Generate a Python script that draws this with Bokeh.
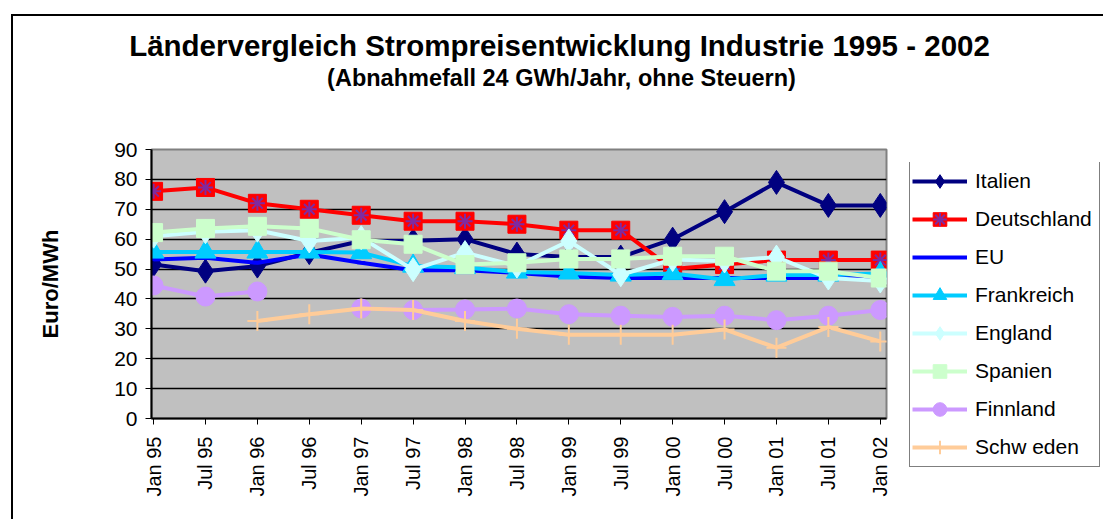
import math
from bokeh.plotting import figure
from bokeh.models import (Legend, LegendItem, Label, FixedTicker, Range1d, Div)
from bokeh.embed import file_html
from bokeh.resources import INLINE

nan = float("nan")

categories = ["Jan 95", "Jul 95", "Jan 96", "Jul 96", "Jan 97", "Jul 97", "Jan 98", "Jul 98",
              "Jan 99", "Jul 99", "Jan 00", "Jul 00", "Jan 01", "Jul 01", "Jan 02"]

italien     = [51.5, 49.3, 51.0, 55.5, 59.4, 59.5, 60.0, 55.0, 54.0, 54.0, 60.0, 69.2, 79.0, 71.3, 71.3]
deutschland = [76.0, 77.3, 72.0, 70.0, 68.0, 66.0, 66.0, 65.0, 63.0, 63.0, 50.0, 51.5, 53.0, 53.0, 53.0]
eu          = [53.2, 53.8, 52.1, 54.9, 52.1, 49.6, 49.6, 48.7, 47.5, 47.0, 47.0, 47.0, 47.0, 47.0, 47.5]
frankreich  = [55.7, 55.7, 55.7, 55.7, 55.5, 51.0, 50.5, 49.0, 48.7, 48.0, 48.5, 46.5, 48.0, 48.0, 48.5]
england     = [61.0, 62.5, 63.0, 59.4, 60.5, 49.8, 55.5, 51.0, 59.4, 48.1, 53.2, 52.7, 54.0, 47.0, 46.0]
spanien     = [62.2, 63.6, 64.3, 63.6, 59.8, 58.3, 51.5, 52.1, 53.4, 53.4, 54.3, 54.3, 49.3, 49.3, 47.0]
finnland    = [44.5, 40.8, 42.5, nan, 36.8, 36.3, 36.5, 36.8, 34.9, 34.4, 34.0, 34.4, 32.9, 34.4, 36.3]
schweden    = [nan, nan, 32.6, 34.9, 36.8, 36.3, 32.6, 30.0, 28.0, 28.0, 28.0, 29.8, 23.7, 30.6, 25.8]

names = ["Italien", "Deutschland", "EU", "Frankreich", "England", "Spanien", "Finnland", "Schw eden"]
title_text = "Ländervergleich Strompreisentwicklung Industrie 1995 - 2002"
subtitle_text = "(Abnahmefall 24 GWh/Jahr, ohne Steuern)"

FONT = "Liberation Sans"

# ---------- main plot ----------
PW, PH = 1101, 517
p = figure(width=PW, height=PH, output_backend="svg", toolbar_location=None, title=None,
           x_range=Range1d(-0.04, 14.12), y_range=Range1d(0, 90),
           min_border_left=151, min_border_right=215, min_border_top=149, min_border_bottom=99,
           background_fill_color="#C0C0C0", border_fill_color="white",
           outline_line_color="#808080", outline_line_width=2)

xs = list(range(len(categories)))

p.xaxis.ticker = FixedTicker(ticks=xs)
p.xaxis.major_label_overrides = {i: c for i, c in enumerate(categories)}
p.xaxis.major_label_orientation = math.pi / 2
p.yaxis.ticker = FixedTicker(ticks=list(range(0, 91, 10)))
for ax in (p.xaxis[0], p.yaxis[0]):
    ax.axis_line_color = "black"
    ax.axis_line_width = 2
    ax.major_tick_line_color = "black"
    ax.major_tick_in = 0
    ax.major_tick_out = 6
    ax.minor_tick_line_color = None
    ax.major_label_text_font = FONT
    ax.major_label_text_font_size = "21px"
    ax.major_label_text_color = "black"
    ax.major_label_standoff = 8
p.xaxis.major_label_text_font_size = "20px"
p.xaxis.major_label_standoff = 12
p.yaxis.axis_label = "Euro/MWh"
p.yaxis.axis_label_text_font = FONT
p.yaxis.axis_label_text_font_size = "22px"
p.yaxis.axis_label_text_font_style = "bold"
p.yaxis.axis_label_text_color = "black"
p.yaxis.axis_label_standoff = 48

p.xgrid.grid_line_color = None
p.ygrid.grid_line_color = "black"
p.ygrid.grid_line_width = 1.5

# ---------- title strip (separate figure placed over the top margin) ----------
TW, TH = 1101, 98
tfig = figure(width=TW, height=TH, output_backend="svg", toolbar_location=None, title=None,
              x_range=Range1d(0, TW), y_range=Range1d(0, TH),
              min_border=0, outline_line_color=None, background_fill_color="white",
              border_fill_color="white",
              styles={"position": "absolute", "left": "0px", "top": "0px"})
tfig.axis.visible = False
tfig.grid.visible = False
tfig.add_layout(Label(x=559, y=53, x_units="screen", y_units="screen", text=title_text,
                      text_font=FONT, text_font_size="29.5px", text_font_style="bold",
                      text_align="center", text_baseline="middle", text_color="black"))
tfig.add_layout(Label(x=561, y=21, x_units="screen", y_units="screen", text=subtitle_text,
                      text_font=FONT, text_font_size="23.5px", text_font_style="bold",
                      text_align="center", text_baseline="middle", text_color="black"))

# ---------- legend box (separate small figure placed over the right margin) ----------
LWID, LH = 192, 306
lfig = figure(width=LWID, height=LH, output_backend="svg", toolbar_location=None, title=None,
              x_range=Range1d(0, 1), y_range=Range1d(0, 1),
              min_border=0, outline_line_color=None, background_fill_color="white",
              border_fill_color="white",
              styles={"position": "absolute", "left": "908px", "top": "162px"})
lfig.axis.visible = False
lfig.grid.visible = False

LW = 4
series_styles = [
    # (data, color, marker, size, marker line width)
    (italien, "#000080", "diamond", 24, 1),
    (deutschland, "#FF0000", "square", 18, 1),
    (eu, "#0000FF", "dash", 8, 3),
    (frankreich, "#00CCFF", "triangle", 21, 1),
    (england, "#CCFFFF", "diamond", 24, 1),
    (spanien, "#CCFFCC", "square", 18, 1),
    (finnland, "#CC99FF", "circle", 19, 1),
    (schweden, "#FFCC99", "cross", 20, 2),
]

OFF = [5.0]  # legend-only renderers sit outside the legend figure's visible range
items = []
for name, (ys, color, marker, size, mlw) in zip(names, series_styles):
    p.line(xs, ys, line_color=color, line_width=LW)
    p.scatter(xs, ys, marker=marker, size=size, fill_color=color, line_color=color, line_width=mlw)
    rl = lfig.line(OFF, OFF, line_color=color, line_width=LW)
    rm = lfig.scatter(OFF, OFF, marker=marker, size=size, fill_color=color, line_color=color,
                      line_width=mlw)
    rend = [rl, rm]
    if name == "Deutschland":
        p.scatter(xs, ys, marker="asterisk", size=15, line_color="#7F2AA0", line_width=2)
        rend.append(lfig.scatter(OFF, OFF, marker="asterisk", size=15, line_color="#7F2AA0",
                                 line_width=2))
    items.append(LegendItem(label=name, renderers=rend))

legend = Legend(items=items, location=(1, 1), margin=0, padding=2,
                spacing=4, glyph_width=55, glyph_height=34, label_height=34, label_width=122,
                label_standoff=8, label_text_font=FONT, label_text_font_size="21px",
                label_text_color="black",
                border_line_color="black", border_line_width=1,
                background_fill_color="white", background_fill_alpha=1.0)
lfig.add_layout(legend, "center")

# ---------- chart-area border (top and left edges visible) ----------
frame_border = Div(text="", width=1093, height=506,
                   styles={"position": "absolute", "left": "6px", "top": "9px",
                           "border-top": "2px solid black", "border-left": "2px solid black",
                           "pointer-events": "none"})

open("out.html", "w").write(file_html([p, tfig, lfig, frame_border], INLINE))
